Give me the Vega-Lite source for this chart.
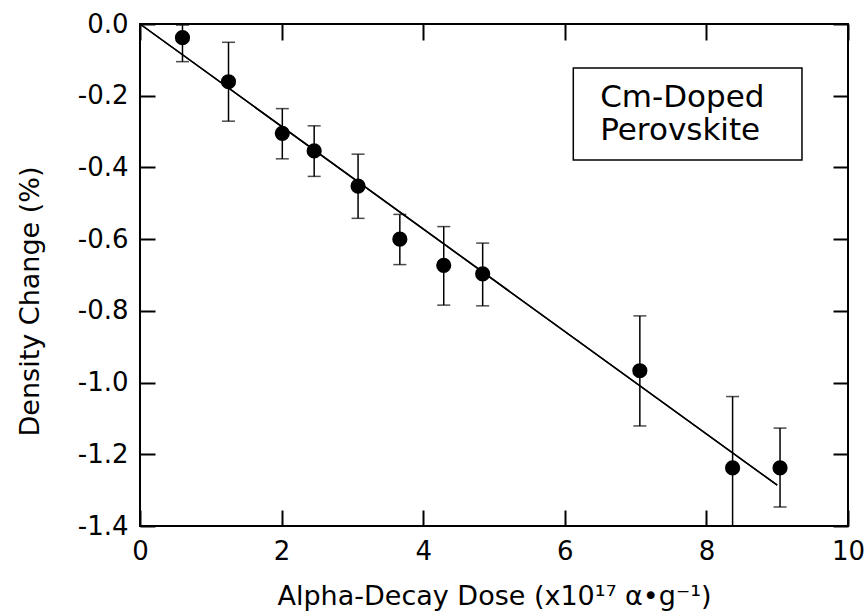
{
  "$schema": "https://vega.github.io/schema/vega-lite/v6.json",
  "width": 708,
  "height": 502,
  "autosize": "none",
  "padding": {"left": 140, "top": 24, "right": 20, "bottom": 86},
  "background": "white",
  "config": {
    "font": "DejaVu Sans",
    "view": {"stroke": "black", "strokeWidth": 2},
    "axis": {"grid": false, "domain": false, "tickWidth": 2, "labelColor": "black", "titleColor": "black", "titleFontWeight": "normal", "labelFlush": false, "labelOverlap": false, "zindex": 1}
  },
  "datasets": {
    "points": [
      {"dose": 0.60, "change": -0.038, "lo": -0.105, "hi": -0.003},
      {"dose": 1.25, "change": -0.161, "lo": -0.271, "hi": -0.051},
      {"dose": 2.01, "change": -0.305, "lo": -0.376, "hi": -0.236},
      {"dose": 2.46, "change": -0.354, "lo": -0.425, "hi": -0.284},
      {"dose": 3.08, "change": -0.452, "lo": -0.542, "hi": -0.363},
      {"dose": 3.67, "change": -0.600, "lo": -0.671, "hi": -0.531},
      {"dose": 4.29, "change": -0.673, "lo": -0.784, "hi": -0.565},
      {"dose": 4.84, "change": -0.697, "lo": -0.786, "hi": -0.611},
      {"dose": 7.06, "change": -0.967, "lo": -1.121, "hi": -0.814},
      {"dose": 8.37, "change": -1.238, "lo": -1.400, "hi": -1.039},
      {"dose": 9.04, "change": -1.238, "lo": -1.347, "hi": -1.127}
    ],
    "fit": [
      {"dose": 0.0, "change": 0.0},
      {"dose": 9.0, "change": -1.286}
    ],
    "box": [
      {"x1": 6.12, "x2": 9.35, "y1": -0.123, "y2": -0.379}
    ],
    "labels": [
      {"x": 6.5, "y": -0.232, "text": "Cm-Doped"},
      {"x": 6.5, "y": -0.324, "text": "Perovskite"}
    ]
  },
  "layer": [
    {
      "data": {"name": "fit"},
      "mark": {"type": "line", "color": "black", "strokeWidth": 1.5},
      "encoding": {
        "x": {"field": "dose", "type": "quantitative",
          "scale": {"domain": [0, 10], "nice": false, "zero": false},
          "axis": {"orient": "bottom", "offset": -16, "tickColor": "black", "values": [0, 2, 4, 6, 8, 10], "tickSize": 16, "labelFontSize": 26, "labelPadding": 12, "title": "Alpha-Decay Dose (x10¹⁷ α•g⁻¹)", "titleFontSize": 27, "titleY": 94, "titleBaseline": "alphabetic", "titleAnchor": "middle"}},
        "y": {"field": "change", "type": "quantitative",
          "scale": {"domain": [-1.4, 0], "nice": false, "zero": false},
          "axis": {"orient": "left", "offset": -15, "tickColor": "black", "values": [0, -0.2, -0.4, -0.6, -0.8, -1.0, -1.2, -1.4], "tickSize": 15, "labelFontSize": 26, "labelPadding": 12, "labelExpr": "replace(format(datum.value, '.1f'), '\u2212', '-')", "title": "Density Change (%)", "titleFontSize": 27, "titleAngle": -90, "titleX": -117, "titleY": 277, "titleBaseline": "alphabetic", "titleAlign": "center"}}
      }
    },
    {
      "data": {"name": "fit"},
      "mark": {"type": "line", "color": "black", "strokeWidth": 1.5},
      "encoding": {
        "x": {"field": "dose", "type": "quantitative",
          "axis": {"orient": "top", "offset": -16, "tickColor": "black", "values": [0, 2, 4, 6, 8, 10], "tickSize": 16, "labels": false, "title": null}},
        "y": {"field": "change", "type": "quantitative",
          "axis": {"orient": "right", "offset": -15, "tickColor": "black", "values": [0, -0.2, -0.4, -0.6, -0.8, -1.0, -1.2, -1.4], "tickSize": 15, "labels": false, "title": null}}
      }
    },
    {
      "data": {"name": "points"},
      "mark": {"type": "rule", "color": "black", "strokeWidth": 1.5},
      "encoding": {
        "x": {"field": "dose", "type": "quantitative", "axis": null},
        "y": {"field": "lo", "type": "quantitative", "axis": null},
        "y2": {"field": "hi"}
      }
    },
    {
      "data": {"name": "points"},
      "mark": {"type": "tick", "orient": "horizontal", "color": "black", "size": 13, "thickness": 1.5},
      "encoding": {
        "x": {"field": "dose", "type": "quantitative", "axis": null},
        "y": {"field": "lo", "type": "quantitative", "axis": null}
      }
    },
    {
      "data": {"name": "points"},
      "mark": {"type": "tick", "orient": "horizontal", "color": "black", "size": 13, "thickness": 1.5},
      "encoding": {
        "x": {"field": "dose", "type": "quantitative", "axis": null},
        "y": {"field": "hi", "type": "quantitative", "axis": null}
      }
    },
    {
      "data": {"name": "points"},
      "mark": {"type": "circle", "color": "black", "opacity": 1, "size": 230},
      "encoding": {
        "x": {"field": "dose", "type": "quantitative", "axis": null},
        "y": {"field": "change", "type": "quantitative", "axis": null}
      }
    },
    {
      "data": {"name": "box"},
      "mark": {"type": "rect", "fill": "white", "stroke": "black", "strokeWidth": 1.5},
      "encoding": {
        "x": {"field": "x1", "type": "quantitative", "axis": null},
        "x2": {"field": "x2"},
        "y": {"field": "y1", "type": "quantitative", "axis": null},
        "y2": {"field": "y2"}
      }
    },
    {
      "data": {"name": "labels"},
      "mark": {"type": "text", "align": "left", "baseline": "alphabetic", "fontSize": 31, "color": "black", "font": "DejaVu Sans"},
      "encoding": {
        "x": {"field": "x", "type": "quantitative", "axis": null},
        "y": {"field": "y", "type": "quantitative", "axis": null},
        "text": {"field": "text"}
      }
    }
  ],
  "resolve": {"axis": {"x": "independent", "y": "independent"}}
}
